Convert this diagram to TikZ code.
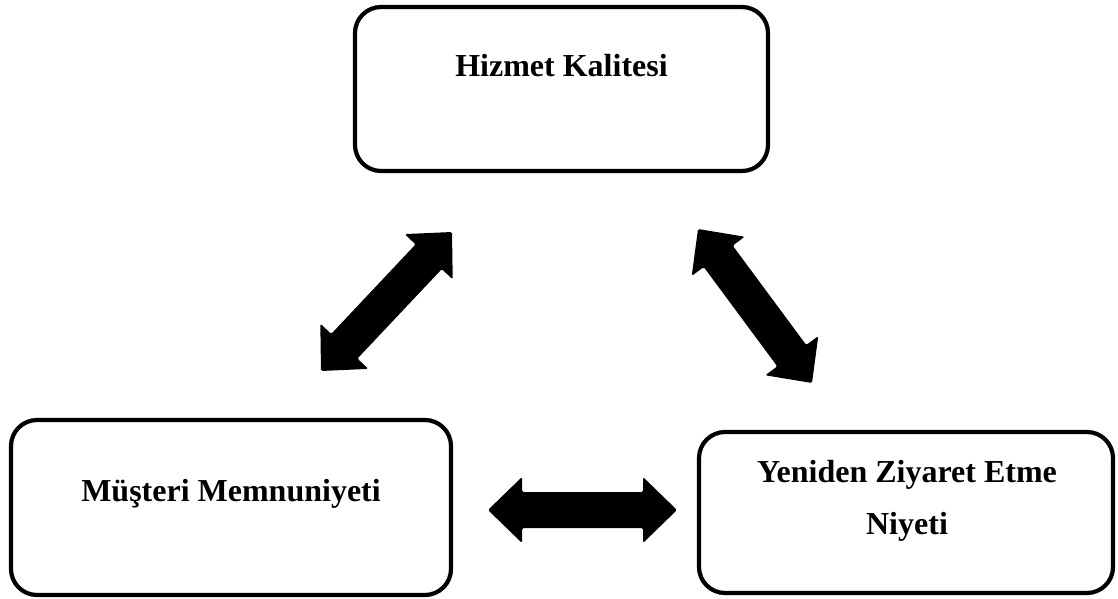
\documentclass[tikz,border=0pt]{standalone}
\usepackage{fontspec}
\setmainfont{Liberation Serif}
\usetikzlibrary{calc}
\tikzset{
  box/.style={draw=black, line width=4.2pt, rounded corners=26pt, inner sep=0pt},
  lbl/.style={font=\fontsize{32}{52}\selectfont\bfseries, inner sep=0pt},
  blockarrow/.style={fill=black, rounded corners=1.5pt},
}
\newcommand\dblarrow[2]{%
  \fill[blockarrow] let \p1=(#1), \p2=(#2),
    \n1={atan2(\y2-\y1,\x2-\x1)}, \n2={veclen(\x2-\x1,\y2-\y1)} in
    [shift={(\p1)}, rotate=\n1]
    (0pt,0pt) -- (34pt,33pt) -- (34pt,18pt) -- (\n2-34pt,18pt) -- (\n2-34pt,33pt)
    -- (\n2,0pt) -- (\n2-34pt,-33pt) -- (\n2-34pt,-18pt) -- (34pt,-18pt)
    -- (34pt,-33pt) -- cycle;}
\begin{document}
\begin{tikzpicture}[x=1pt,y=-1pt]
  \useasboundingbox (0,0) rectangle (1118,599);
  % boxes
  \node[box, minimum width=413pt, minimum height=164pt] (hk) at (561.5,89) {};
  \node[box, minimum width=440pt, minimum height=175pt] (mm) at (231,507.5) {};
  \node[box, minimum width=414pt, minimum height=161pt] (yz) at (906,512.5) {};
  % labels
  \node[lbl, anchor=base] (hkt) at (561.5,77) {Hizmet Kalitesi};
  \node[lbl, anchor=base] (mmt) at (231,501) {Müşteri Memnuniyeti};
  \node[lbl, align=center, anchor=north] (yzt) at (907,460) {Yeniden Ziyaret Etme\\Niyeti};
  % arrow end points
  \coordinate (a1) at (321,371); \coordinate (a2) at (452,232);
  \coordinate (b1) at (698,229); \coordinate (b2) at (812,383);
  \coordinate (c1) at (488,510); \coordinate (c2) at (677,510);
  \dblarrow{a1}{a2}
  \dblarrow{b1}{b2}
  \dblarrow{c1}{c2}
\end{tikzpicture}
\end{document}
